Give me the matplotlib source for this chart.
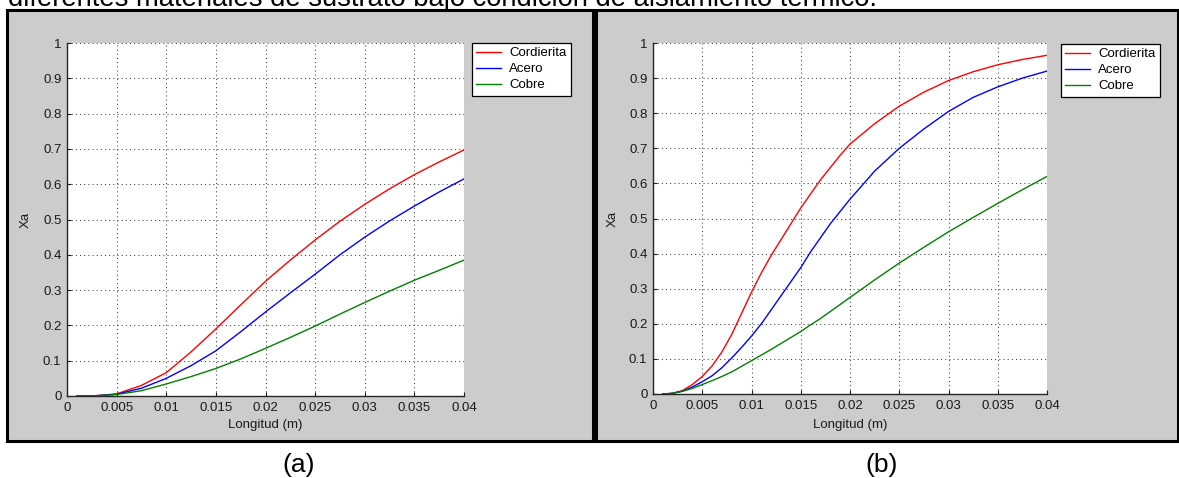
import matplotlib
matplotlib.use("Agg")
import matplotlib.pyplot as plt
from matplotlib.patches import Rectangle

W, H = 1179, 478

# ---- data -------------------------------------------------------------
series_names = ["Cordierita", "Acero", "Cobre"]
series_colors = ["#ff0000", "#0000ff", "#008000"]

# (a) reactor length vs conversion
xa = [0.001, 0.003, 0.005, 0.0075, 0.01, 0.0125, 0.015, 0.0175, 0.02,
      0.0225, 0.025, 0.0275, 0.03, 0.0325, 0.035, 0.0375, 0.04]
a_cordierita = [0.0, 0.001, 0.006, 0.03, 0.066, 0.125, 0.19, 0.258, 0.325,
                0.385, 0.442, 0.495, 0.543, 0.587, 0.627, 0.663, 0.697]
a_acero = [0.0, 0.001, 0.005, 0.022, 0.05, 0.086, 0.128, 0.182, 0.238,
           0.292, 0.345, 0.4, 0.45, 0.496, 0.538, 0.578, 0.615]
a_cobre = [0.0, 0.001, 0.004, 0.015, 0.034, 0.055, 0.078, 0.105, 0.135,
           0.166, 0.198, 0.232, 0.265, 0.297, 0.328, 0.356, 0.385]

# (b)
xb = [0.001, 0.002, 0.003, 0.004, 0.005, 0.006, 0.007, 0.008, 0.009, 0.01,
      0.011, 0.012, 0.013, 0.014, 0.015, 0.016, 0.017, 0.018, 0.019, 0.02,
      0.0225, 0.025, 0.0275, 0.03, 0.0325, 0.035, 0.0375, 0.04]
b_cordierita = [0.0, 0.002, 0.01, 0.027, 0.05, 0.08, 0.12, 0.17, 0.23, 0.29,
                0.345, 0.395, 0.44, 0.485, 0.53, 0.57, 0.61, 0.645, 0.68, 0.712,
                0.77, 0.82, 0.86, 0.893, 0.918, 0.938, 0.953, 0.965]
b_acero = [0.0, 0.002, 0.008, 0.02, 0.035, 0.052, 0.075, 0.103, 0.133, 0.165,
           0.2, 0.24, 0.28, 0.32, 0.36, 0.405, 0.445, 0.485, 0.52, 0.555,
           0.635, 0.7, 0.755, 0.805, 0.845, 0.875, 0.9, 0.92]
b_cobre = [0.0, 0.002, 0.008, 0.016, 0.027, 0.038, 0.05, 0.063, 0.079, 0.095,
           0.111, 0.127, 0.144, 0.161, 0.178, 0.197, 0.215, 0.235, 0.255, 0.275,
           0.325, 0.373, 0.418, 0.462, 0.503, 0.543, 0.582, 0.62]

x_ticks = [0, 0.005, 0.01, 0.015, 0.02, 0.025, 0.03, 0.035, 0.04]
x_tick_labels = ["0", "0.005", "0.01", "0.015", "0.02", "0.025", "0.03", "0.035", "0.04"]
y_ticks = [0, 0.1, 0.2, 0.3, 0.4, 0.5, 0.6, 0.7, 0.8, 0.9, 1.0]
y_tick_labels = ["0", "0.1", "0.2", "0.3", "0.4", "0.5", "0.6", "0.7", "0.8", "0.9", "1"]

caption = "diferentes materiales de sustrato bajo condición de aislamiento térmico."
panel_tags = ["(a)", "(b)"]

# ---- layout helpers (pixel -> figure fraction) ------------------------
def fx(x):
    return x / W

def fy(y):
    return 1 - y / H

plt.rcParams["font.family"] = ["Liberation Sans", "DejaVu Sans"]
fig = plt.figure(figsize=(W / 100, H / 100), dpi=100)
fig.patch.set_facecolor("white")

# grey figure windows with black frames
for (x0, x1) in [(7.5, 593.0), (595.5, 1178.0)]:
    fig.patches.append(Rectangle((fx(x0), fy(441)), fx(x1) - fx(x0), fy(10.5) - fy(441),
                                 transform=fig.transFigure, facecolor="#cccccc",
                                 edgecolor="black", linewidth=2.2, zorder=-10))

panels = [
    dict(box=(67, 464, 43, 396), legend=(472, 43), ylab=32, x=xa,
         ys=[a_cordierita, a_acero, a_cobre]),
    dict(box=(653, 1047, 43, 394), legend=(1061, 44), ylab=619, x=xb,
         ys=[b_cordierita, b_acero, b_cobre]),
]

for p in panels:
    l, r, t, b = p["box"]
    ax = fig.add_axes([fx(l), fy(b), fx(r) - fx(l), fy(t) - fy(b)])
    ax.set_zorder(1)
    ax.set_facecolor("white")
    for name, col, y in zip(series_names, series_colors, p["ys"]):
        ax.plot(p["x"], y, color=col, lw=1.0, label=name)
    ax.set_xlim(0, 0.04)
    ax.set_ylim(0, 1)
    ax.set_xticks(x_ticks)
    ax.set_xticklabels(x_tick_labels)
    ax.set_yticks(y_ticks)
    ax.set_yticklabels(y_tick_labels)
    ax.grid(True, color="0.25", linestyle=(0, (1, 3)), linewidth=0.75)
    ax.spines["top"].set_visible(False)
    ax.spines["right"].set_visible(False)
    for s in ("left", "bottom"):
        ax.spines[s].set_color("0.15")
        ax.spines[s].set_linewidth(1.0)
    ax.tick_params(direction="in", length=3, width=0.8, labelsize=9.5,
                   colors="0.1", pad=4)
    ax.set_xlabel("Longitud (m)", fontsize=9.5, color="0.1")
    ax.set_ylabel("Xa", fontsize=9.5, color="0.1")
    ax.xaxis.set_label_coords(0.5, -(419 - b) / (b - t))
    ax.yaxis.set_label_coords(-(l - p["ylab"]) / (r - l), 0.5)
    lx, ly = p["legend"]
    leg = ax.legend(loc="upper left", bbox_to_anchor=(fx(lx), fy(ly)),
                    bbox_transform=fig.transFigure, fontsize=9.5, frameon=True,
                    fancybox=False, borderaxespad=0, borderpad=0.32,
                    handlelength=1.9, handletextpad=0.6, labelspacing=0.28)
    frame = leg.get_frame()
    frame.set_edgecolor("black")
    frame.set_linewidth(0.9)
    frame.set_facecolor("white")
    frame.set_alpha(1)

# caption line above the panels (only its lower part falls inside the image)
cap = fig.text(fx(8), fy(6), caption, fontsize=19, va="baseline", ha="left",
               color="black")
fig.canvas.draw()
bb = cap.get_window_extent()
cap.set_fontsize(19 * 872 / bb.width)

for tag, xc in zip(panel_tags, [299, 882]):
    fig.text(fx(xc), fy(465), tag, fontsize=19, ha="center", va="center",
             color="black")

fig.savefig("out.png", dpi=100, facecolor="white")
